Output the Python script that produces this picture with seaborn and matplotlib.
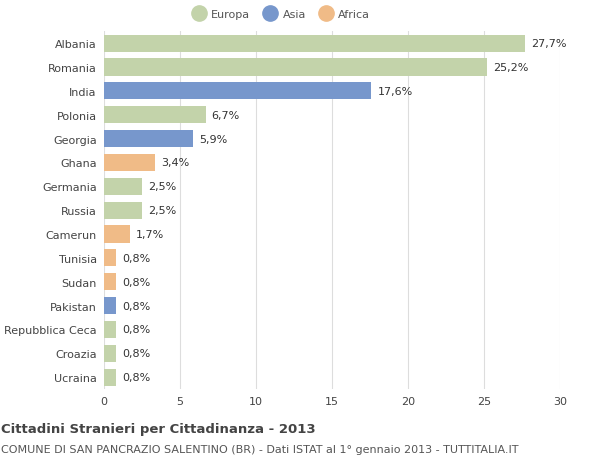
import matplotlib
matplotlib.use("Agg")
import matplotlib.pyplot as plt
import seaborn as sns
import pandas as pd
from matplotlib.lines import Line2D

countries = ["Albania","Romania","India","Polonia","Georgia","Ghana","Germania","Russia",
             "Camerun","Tunisia","Sudan","Pakistan","Repubblica Ceca","Croazia","Ucraina"]
values = [27.7,25.2,17.6,6.7,5.9,3.4,2.5,2.5,1.7,0.8,0.8,0.8,0.8,0.8,0.8]
continents = ["Europa","Europa","Asia","Europa","Asia","Africa","Europa","Europa",
              "Africa","Africa","Africa","Asia","Europa","Europa","Europa"]
palette = {"Europa":"#c3d3aa","Asia":"#7797cc","Africa":"#f0bb87"}

df = pd.DataFrame({"country":countries,"value":values,"cont":continents})

fig = plt.figure(figsize=(6,4.6), dpi=100)
ax = fig.add_axes([0.173,0.152,0.76,0.778])
sns.barplot(data=df, y="country", x="value", hue="cont", palette=palette,
            dodge=False, legend=False, width=0.72, ax=ax, saturation=1)
ax.set_xlim(0,30)
ax.set_xticks([0,5,10,15,20,25,30])
ax.grid(axis="x", color="#dddddd", lw=0.8)
ax.set_axisbelow(True)
for s in ax.spines.values(): s.set_visible(False)
ax.set_xlabel(""); ax.set_ylabel("")
ax.tick_params(length=0, labelsize=8, colors="#444444", pad=5)
for i,v in enumerate(values):
    ax.text(v+0.4, i, f"{v:.1f}".replace(".",",")+"%", va="center", fontsize=8, color="#333333")

handles = [Line2D([],[],marker="o",ls="",markersize=11,markerfacecolor=palette[k],
                  markeredgecolor=palette[k],label=k) for k in ["Europa","Asia","Africa"]]
fig.legend(handles=handles, loc="center", bbox_to_anchor=(0.465,0.967), ncol=3, frameon=False,
           fontsize=8, handletextpad=0.1, columnspacing=0.8, labelcolor="#555555")

fig.text(0.002,0.058,"Cittadini Stranieri per Cittadinanza - 2013", fontsize=9.5, fontweight="bold", color="#444444")
fig.text(0.002,0.015,"COMUNE DI SAN PANCRAZIO SALENTINO (BR) - Dati ISTAT al 1° gennaio 2013 - TUTTITALIA.IT",
         fontsize=8, color="#555555")
fig.savefig("out.png", dpi=100)
